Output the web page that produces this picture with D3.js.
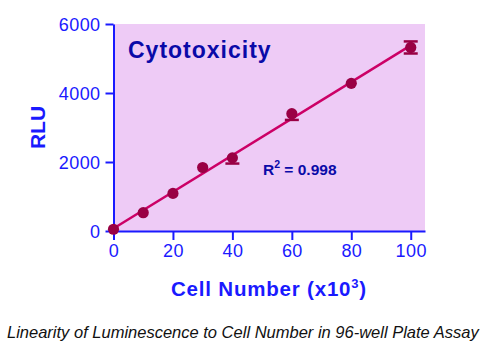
<!DOCTYPE html>
<html>
<head>
<meta charset="utf-8">
<script src="https://cdn.jsdelivr.net/npm/d3@7"></script>
<style>
  body { margin: 0; background: #fff; }
  svg { display: block; font-family: "Liberation Sans", Arial, sans-serif; }
</style>
</head>
<body>
<div class="chart"></div>
<script>
// cell number (x10^3)
var cells = [0, 10, 20, 30, 40, 60, 80, 100];
// mean RLU
var rlu = [50, 530, 1090, 1840, 2120, 3400, 4280, 5320];
// error bar lengths (only some are visible outside the dots)
var errUp = [0, 0, 0, 0, 0, 0, 0, 175];
var errDown = [0, 0, 0, 0, 165, 180, 0, 175];

var xTicks = [0, 20, 40, 60, 80, 100];
var yTicks = [0, 2000, 4000, 6000];

var w = 489, h = 353;
var margin = {top: 24, right: 64, bottom: 122, left: 113.5};

var svg = d3.select("div.chart")
  .append("svg")
  .attr("width", w)
  .attr("height", h);

var x = d3.scaleLinear()
  .domain([0, 104.8])
  .range([margin.left, w - margin.right]);

var y = d3.scaleLinear()
  .domain([0, 6000])
  .range([h - margin.bottom, margin.top]);

var blue = "#1a1aff";

//plot background
svg.append("rect")
  .attr("x", x(0))
  .attr("y", y(6000))
  .attr("width", x(104.8) - x(0))
  .attr("height", y(0) - y(6000))
  .attr("fill", "#eecbf6");

//axes
var xAxis = svg.append("g")
  .attr("transform", `translate(0,${y(0)})`)
  .call(d3.axisBottom(x).tickValues(xTicks).tickFormat(d3.format("d")).tickSize(9).tickSizeOuter(0).tickPadding(4));

var yAxis = svg.append("g")
  .attr("transform", `translate(${x(0)},0)`)
  .call(d3.axisLeft(y).tickValues(yTicks).tickFormat(d3.format("d")).tickSize(8).tickSizeOuter(0).tickPadding(5));

[xAxis, yAxis].forEach(function(g){
  g.select(".domain").attr("stroke", blue).attr("stroke-width", 2);
  g.selectAll(".tick line").attr("stroke", blue).attr("stroke-width", 2);
  g.selectAll(".tick text")
    .attr("fill", blue)
    .style("font-size", "18px")
    .style("letter-spacing", "0.4px")
    .style("font-family", "Liberation Sans, Arial, sans-serif");
});
yAxis.selectAll(".tick text").attr("dy", "0.36em");

//regression line (least squares through the points)
var mx = d3.mean(cells), my = d3.mean(rlu);
var b = d3.sum(cells, (c, i) => (c - mx) * (rlu[i] - my)) / d3.sum(cells, c => (c - mx) * (c - mx));
var a = my - b * mx;

svg.append("line")
  .attr("x1", x(0))
  .attr("y1", y(a))
  .attr("x2", x(100))
  .attr("y2", y(a + b * 100))
  .attr("stroke", "#cc0066")
  .attr("stroke-width", 2.5);

var pts = cells.map((c, i) => ({x: c, y: rlu[i], up: errUp[i], dn: errDown[i]}));

//error bars
var eb = svg.append("g").selectAll(".err")
  .data(pts.filter(d => d.up > 0 || d.dn > 0))
  .enter()
  .append("g")
    .attr("fill", "none")
    .attr("stroke", "#990044")
    .attr("stroke-width", 2.5);

eb.append("line")
  .attr("x1", d => x(d.x)).attr("x2", d => x(d.x))
  .attr("y1", d => y(d.y - d.dn)).attr("y2", d => y(d.y + d.up));
eb.filter(d => d.dn > 0).append("line")
  .attr("x1", d => x(d.x) - 7).attr("x2", d => x(d.x) + 7)
  .attr("y1", d => y(d.y - d.dn)).attr("y2", d => y(d.y - d.dn));
eb.filter(d => d.up > 0).append("line")
  .attr("x1", d => x(d.x) - 7).attr("x2", d => x(d.x) + 7)
  .attr("y1", d => y(d.y + d.up)).attr("y2", d => y(d.y + d.up));

//points
svg.append("g").selectAll(".pt")
  .data(pts)
  .enter()
  .append("circle")
    .attr("cx", d => x(d.x))
    .attr("cy", d => y(d.y))
    .attr("r", 5.6)
    .attr("fill", "#990044");

//title inside plot
svg.append("text")
  .attr("x", 128)
  .attr("y", 58)
  .attr("fill", "#0a0aa8")
  .style("font-weight", "bold")
  .style("font-size", "23px")
  .style("letter-spacing", "1px")
  .text("Cytotoxicity");

//r squared
var r2 = svg.append("text")
  .attr("x", 263)
  .attr("y", 175)
  .attr("fill", "#0a0aa8")
  .style("font-weight", "bold")
  .style("font-size", "15.5px");
r2.append("tspan").text("R");
r2.append("tspan").attr("dy", -7).style("font-size", "10.5px").text("2");
r2.append("tspan").attr("dy", 7).text(" = 0.998");

//axis titles
svg.append("text")
  .attr("transform", `translate(45,${(y(0) + y(6000)) / 2}) rotate(-90)`)
  .attr("text-anchor", "middle")
  .attr("fill", blue)
  .style("font-weight", "bold")
  .style("font-size", "21px")
  .text("RLU");

var xl = svg.append("text")
  .attr("x", 269)
  .attr("y", 296)
  .attr("text-anchor", "middle")
  .attr("fill", blue)
  .style("font-weight", "bold")
  .style("font-size", "20.5px")
  .style("letter-spacing", "0.8px");
xl.append("tspan").text("Cell Number (x10");
xl.append("tspan").attr("dy", -8).style("font-size", "13px").text("3");
xl.append("tspan").attr("dy", 8).text(")");

//caption
svg.append("text")
  .attr("x", 7)
  .attr("y", 338)
  .attr("fill", "#111")
  .style("font-style", "italic")
  .style("font-size", "16.5px")
  .text("Linearity of Luminescence to Cell Number in 96-well Plate Assay");
</script>
</body>
</html>
